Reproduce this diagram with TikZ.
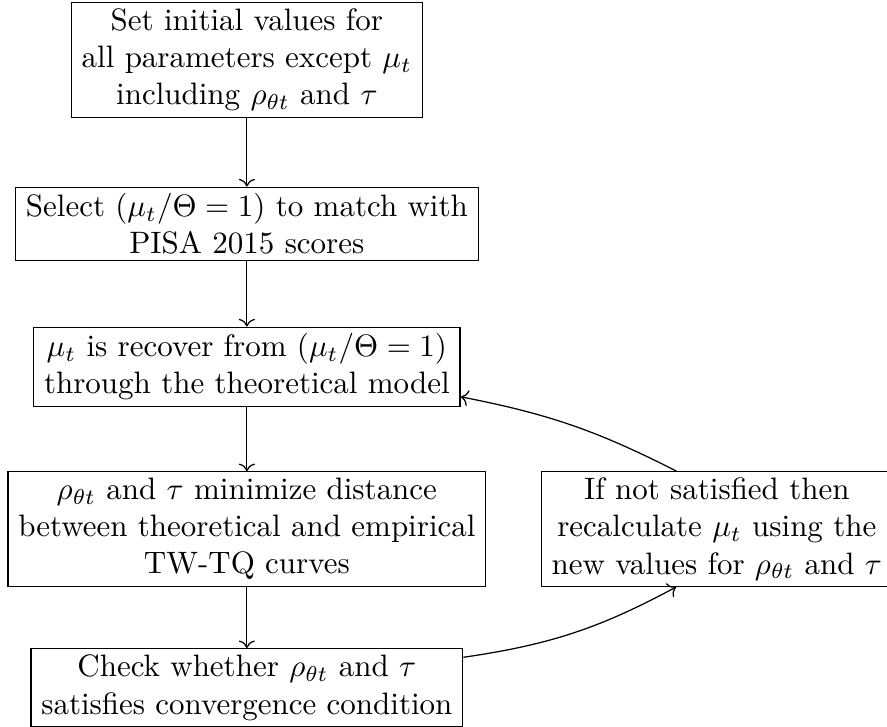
\documentclass[tikz,border=0pt]{standalone}
\usepackage{amsmath}
\usepackage{tikz}
\usetikzlibrary{positioning, arrows.meta, calc}

\begin{document}
\begin{tikzpicture}[
    stage/.style={draw, rectangle, align=center, text centered, inner ysep=2pt},
    flow/.style={->},
]

\useasboundingbox (-2.80, 0) rectangle (7.26, -8.24);

% Main column top to bottom
\node[stage] (init) at (0, -0.68)
  {Set initial values for\\ all parameters except $\mu_t$\\ including $\rho_{\theta t}$ and $\tau$};

\node[stage] (select) at (0, -2.54)
  {Select $(\mu_t/\Theta = 1)$ to match with\\ PISA 2015 scores};

\node[stage] (recover) at (0, -4.16)
  {$\mu_t$ is recover from $(\mu_t/\Theta = 1)$\\ through the theoretical model};

\node[stage] (fit) at (0, -6.0)
  {$\rho_{\theta t}$ and $\tau$ minimize distance\\ between theoretical and empirical\\ TW-TQ curves};

\node[stage] (check) at (0, -7.80)
  {Check whether $\rho_{\theta t}$ and $\tau$\\ satisfies convergence condition};

% Side box
\node[stage] (recalc) at (5.33, -6.0)
  {If not satisfied then\\ recalculate $\mu_t$ using the\\ new values for $\rho_{\theta t}$ and $\tau$};

% Arrows
\foreach \a/\b in {init/select, select/recover, recover/fit, fit/check} {
  \draw[flow] (\a) -- (\b);
}
\draw[flow] (check.8) to[bend right=10] (recalc.235);
\draw[flow] (recalc.125) to[bend right=8] (recover.-8);

\end{tikzpicture}
\end{document}
